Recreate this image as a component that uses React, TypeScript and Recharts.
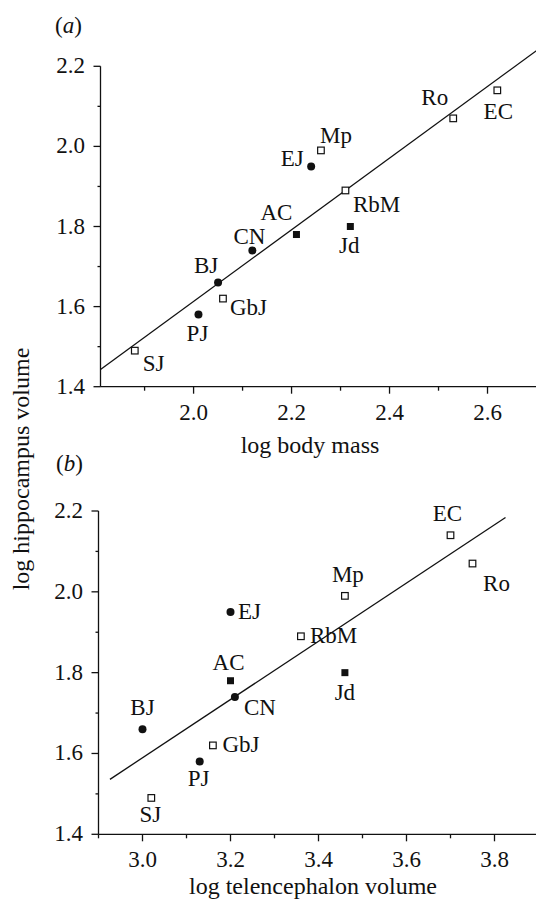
import { ScatterChart, Scatter, XAxis, YAxis, ReferenceLine } from 'recharts';

// species order is shared by every value array below
const species = ['SJ', 'PJ', 'GbJ', 'BJ', 'CN', 'AC', 'Jd', 'RbM', 'EJ', 'Mp', 'Ro', 'EC'];
const logBodyMass = [1.88, 2.01, 2.06, 2.05, 2.12, 2.21, 2.32, 2.31, 2.24, 2.26, 2.53, 2.62];
const logTelencephalon = [3.02, 3.13, 3.16, 3.0, 3.21, 3.2, 3.46, 3.36, 3.2, 3.46, 3.75, 3.7];
const logHippocampus = [1.49, 1.58, 1.62, 1.66, 1.74, 1.78, 1.8, 1.89, 1.95, 1.99, 2.07, 2.14];
const markerKind = ['open', 'dot', 'open', 'dot', 'dot', 'filled', 'filled', 'open', 'dot', 'open', 'open', 'open'];

// regression line end points
const fitBodyX = [1.81, 2.7];
const fitBodyY = [1.443, 2.239];
const fitTelX = [2.926, 3.825];
const fitTelY = [1.536, 2.184];

const yTicks = [1.4, 1.5, 1.6, 1.7, 1.8, 1.9, 2.0, 2.1, 2.2];
const bodyTicks = [1.9, 2.0, 2.1, 2.2, 2.3, 2.4, 2.5, 2.6];
const telTicks = [2.9, 3.0, 3.1, 3.2, 3.3, 3.4, 3.5, 3.6, 3.7, 3.8];

const INK = '#111';
const FONT = '"Liberation Serif", "Times New Roman", serif';

type Place = [number, number, 'start' | 'middle' | 'end'];

// label offsets from the marker centre (dx, dy to baseline, anchor)
const placeA: Record<string, Place> = {
  SJ: [8, 20, 'start'],
  PJ: [-1, 26, 'middle'],
  GbJ: [7, 16, 'start'],
  BJ: [-12, -9.5, 'middle'],
  CN: [-3, -7, 'middle'],
  AC: [-20, -15, 'middle'],
  Jd: [-1, 26, 'middle'],
  RbM: [7.5, 21.5, 'start'],
  EJ: [-7.5, 0, 'end'],
  Mp: [15, -7, 'middle'],
  Ro: [-18.5, -13, 'middle'],
  EC: [1, 29, 'middle'],
};

const placeB: Record<string, Place> = {
  SJ: [-1, 24, 'middle'],
  PJ: [-1, 24, 'middle'],
  GbJ: [9.5, 7, 'start'],
  BJ: [0, -14, 'middle'],
  CN: [9, 18.5, 'start'],
  AC: [-2, -11, 'middle'],
  Jd: [0, 27, 'middle'],
  RbM: [9, 7, 'start'],
  EJ: [7.5, 6.5, 'start'],
  Mp: [3, -14, 'middle'],
  Ro: [24, 27, 'middle'],
  EC: [-3, -14, 'middle'],
};

const bodyData = species.map((name, i) => ({ name, kind: markerKind[i], x: logBodyMass[i], y: logHippocampus[i] }));
const telData = species.map((name, i) => ({ name, kind: markerKind[i], x: logTelencephalon[i], y: logHippocampus[i] }));

const isMajor = (v: number) => Math.round(v * 10) % 2 === 0;

const XTick = ({ x, y, payload }: any) => {
  const major = isMajor(payload.value);
  return (
    <g>
      <line x1={x} x2={x} y1={y} y2={y + (major ? 7 : 4)} stroke={INK} strokeWidth={1.3} />
      {major && (
        <text x={x} y={y + 33} textAnchor="middle" fontFamily={FONT} fontSize={23} fill={INK}>
          {payload.value.toFixed(1)}
        </text>
      )}
    </g>
  );
};

const YTick = ({ x, y, payload }: any) => {
  const major = isMajor(payload.value);
  return (
    <g>
      <line x1={x} x2={x - (major ? 7 : 3)} y1={y} y2={y} stroke={INK} strokeWidth={1.3} />
      {major && (
        <text x={x - 15.5} y={y + 7} textAnchor="end" fontFamily={FONT} fontSize={23} fill={INK}>
          {payload.value.toFixed(1)}
        </text>
      )}
    </g>
  );
};

const makeShape = (place: Record<string, Place>) => (props: any) => {
  const { cx, cy, payload } = props;
  const [dx, dy, anchor] = place[payload.name];
  let mark;
  if (payload.kind === 'dot') {
    mark = <circle cx={cx} cy={cy} r={4} fill={INK} />;
  } else if (payload.kind === 'filled') {
    mark = <rect x={cx - 3.5} y={cy - 3.5} width={7} height={7} fill={INK} />;
  } else {
    mark = <rect x={cx - 3.3} y={cy - 3.3} width={6.6} height={6.6} fill="#fff" stroke={INK} strokeWidth={1.2} />;
  }
  return (
    <g>
      {mark}
      <text x={cx + dx} y={cy + dy} textAnchor={anchor} fontFamily={FONT} fontSize={23} fill={INK}>
        {payload.name}
      </text>
    </g>
  );
};

const Panel = ({ data, domain, ticks, fitX, fitY, place, top, height, margin, yWidth, xHeight }: any) => (
  <div style={{ position: 'absolute', left: 0, top }}>
    <ScatterChart width={540} height={height} margin={margin}>
      <XAxis
        type="number"
        dataKey="x"
        domain={domain}
        ticks={ticks}
        interval={0}
        height={xHeight}
        tickSize={0}
        tickMargin={0}
        tickLine={false}
        axisLine={{ stroke: INK, strokeWidth: 1.3 }}
        tick={<XTick />}
      />
      <YAxis
        type="number"
        dataKey="y"
        domain={[1.4, 2.2]}
        ticks={yTicks}
        interval={0}
        width={yWidth}
        tickSize={0}
        tickMargin={0}
        tickLine={false}
        axisLine={{ stroke: INK, strokeWidth: 1.3 }}
        tick={<YTick />}
      />
      <ReferenceLine
        segment={[{ x: fitX[0], y: fitY[0] }, { x: fitX[1], y: fitY[1] }]}
        stroke={INK}
        strokeWidth={1.3}
        ifOverflow="visible"
      />
      <Scatter data={data} shape={makeShape(place)} isAnimationActive={false} />
    </ScatterChart>
  </div>
);

export default function App() {
  return (
    <div style={{ position: 'absolute', left: 0, top: 0, width: 536, height: 905, overflow: 'hidden', background: '#fff' }}>
      <Panel
        data={bodyData}
        domain={[1.81, 2.7]}
        ticks={bodyTicks}
        fitX={fitBodyX}
        fitY={fitBodyY}
        place={placeA}
        top={0}
        height={440}
        margin={{ top: 66.3, right: 3.5, left: 0, bottom: 0 }}
        yWidth={100.5}
        xHeight={53.3}
      />
      <Panel
        data={telData}
        domain={[2.9, 3.9]}
        ticks={telTicks}
        fitX={fitTelX}
        fitY={fitTelY}
        place={placeB}
        top={440}
        height={465}
        margin={{ top: 71, right: 1.5, left: 0, bottom: 0 }}
        yWidth={98.5}
        xHeight={70.7}
      />
      <svg width={536} height={905} style={{ position: 'absolute', left: 0, top: 0, pointerEvents: 'none' }}>
        <g fontFamily={FONT} fill={INK}>
          <text x={55} y={32.5} fontSize={23}>
            (<tspan fontStyle="italic">a</tspan>)
          </text>
          <text x={56} y={471} fontSize={23}>
            (<tspan fontStyle="italic">b</tspan>)
          </text>
          <text x={310} y={453} fontSize={24} textAnchor="middle">log body mass</text>
          <text x={313} y={894} fontSize={24} textAnchor="middle">log telencephalon volume</text>
          <text x={29} y={469} fontSize={24} textAnchor="middle" transform="rotate(-90 29 469)">
            log hippocampus volume
          </text>
        </g>
      </svg>
    </div>
  );
}
